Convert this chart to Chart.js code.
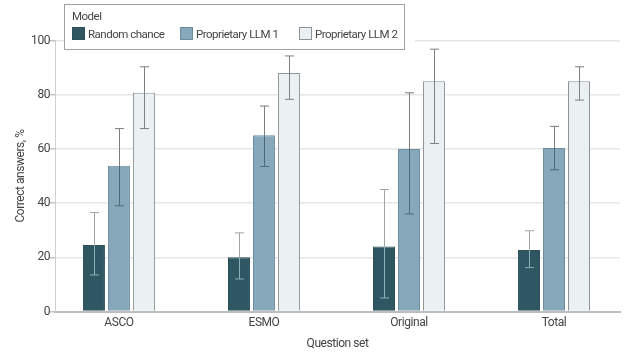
<!DOCTYPE html>
<html>
<head>
<meta charset="utf-8">
<script src="https://cdn.jsdelivr.net/npm/chart.js@4"></script>
<style>
  html, body { margin: 0; padding: 0; background: #fff; }
  #wrap { position: relative; width: 635px; height: 361px; font-family: Roboto, sans-serif; color: #444; }
  #legend { position: absolute; left: 64px; top: 4px; width: 339px; height: 44px; background: #fff;
            border: 1px solid #a0a0a0; box-shadow: 10px 0 0 #fff; font-size: 11.5px; letter-spacing: -0.5px; }
  #legend span { position: absolute; white-space: nowrap; }
  #legend i { position: absolute; top: 22px; width: 13px; height: 13px; box-sizing: border-box; border: 1px solid; }
</style>
</head>
<body>
<div id="wrap">
  <canvas id="myChart" width="635" height="361"></canvas>
  <div id="legend"><span style="left:7px;top:4px">Model</span></div>
</div>
<script>
var categories = ["ASCO", "ESMO", "Original", "Total"];
var seriesNames = ["Random chance", "Proprietary LLM 1", "Proprietary LLM 2"];

var randomChance = [24.5, 20, 24, 22.7];
var randomLow = [13.5, 12, 5, 16.2];
var randomHigh = [36.5, 29, 45, 29.8];

var llm1 = [53.8, 65, 60, 60.3];
var llm1Low = [39, 53.5, 36, 52.3];
var llm1High = [67.5, 75.8, 80.7, 68.3];

var llm2 = [80.7, 88, 85, 85];
var llm2Low = [67.5, 78.3, 62, 78];
var llm2High = [90.3, 94.3, 96.8, 90.3];

var yTicks = [0, 20, 40, 60, 80, 100];

var fills = ["#2f5763", "#86a8ba", "#ebf0f3"];
var borders = ["#2c4f5a", "#6c8d9c", "#8f9496"];
var whiskerOut = ["#a3a3a3", "#7d7d7d", "#7d7d7d"];
var whiskerIn = ["#8fb0b8", "#4f6a76", "#7d8285"];

var lows = [randomLow, llm1Low, llm2Low];
var highs = [randomHigh, llm1High, llm2High];

function points(values) {
    return values.map(function (v, i) {
        return { x: i, y: v };
    });
}

// whiskers are drawn from the low/high arrays, lighter inside the dark bars
var errorBars = {
    id: "errorBars",
    beforeDraw: function (chart) {
        chart.ctx.letterSpacing = "-0.45px";
    },
    afterDatasetsDraw: function (chart) {
        var ctx = chart.ctx;
        var y = chart.scales.y;
        ctx.save();
        ctx.lineWidth = 1;
        chart.data.datasets.forEach(function (ds, d) {
            chart.getDatasetMeta(d).data.forEach(function (bar, i) {
                var x = Math.round(bar.x) + 0.5;
                var top = y.getPixelForValue(highs[d][i]);
                var bottom = y.getPixelForValue(lows[d][i]);
                var barTop = y.getPixelForValue(ds.data[i].y);
                ctx.strokeStyle = whiskerOut[d];
                ctx.beginPath();
                ctx.moveTo(x - 4.5, top);
                ctx.lineTo(x + 4.5, top);
                ctx.moveTo(x, top);
                ctx.lineTo(x, barTop);
                ctx.stroke();
                ctx.strokeStyle = whiskerIn[d];
                ctx.beginPath();
                ctx.moveTo(x, barTop);
                ctx.lineTo(x, bottom);
                ctx.moveTo(x - 4.5, bottom);
                ctx.lineTo(x + 4.5, bottom);
                ctx.stroke();
            });
        });
        ctx.restore();
    }
};

var legend = document.getElementById("legend");
var swatchX = [7, 115, 234];
seriesNames.forEach(function (name, i) {
    var box = document.createElement("i");
    box.style.left = swatchX[i] + "px";
    box.style.background = fills[i];
    box.style.borderColor = borders[i];
    legend.appendChild(box);
    var label = document.createElement("span");
    label.textContent = name;
    label.style.left = swatchX[i] + 16 + "px";
    label.style.top = "22px";
    legend.appendChild(label);
});

Chart.defaults.font.family = "Roboto";
Chart.defaults.font.size = 12;
Chart.defaults.color = "#444";

var myChart = new Chart(document.getElementById("myChart"), {
    type: "bar",
    data: {
        datasets: [randomChance, llm1, llm2].map(function (values, d) {
            return {
                label: seriesNames[d],
                data: points(values),
                backgroundColor: fills[d],
                borderColor: borders[d],
                borderWidth: 1,
                categoryPercentage: 0.517,
                barPercentage: 0.88
            };
        })
    },
    options: {
        responsive: false,
        animation: false,
        layout: { padding: { top: 40.5, right: 15, left: 14, bottom: 0 } },
        plugins: { legend: { display: false }, tooltip: { enabled: false } },
        scales: {
            x: {
                type: "linear",
                offset: false,
                min: -0.441,
                max: 3.455,
                afterBuildTicks: function (axis) {
                    axis.ticks = categories.map(function (c, i) {
                        return { value: i };
                    });
                },
                afterFit: function (axis) {
                    axis.height = 49.5;
                },
                ticks: {
                    autoSkip: false,
                    maxRotation: 0,
                    padding: 4,
                    callback: function (value) {
                        return categories[value];
                    }
                },
                grid: { offset: false, drawOnChartArea: false, drawTicks: false },
                border: { color: "#bdbdbd", width: 2 },
                title: { display: true, text: "Question set", padding: { top: 6, bottom: 10 } }
            },
            y: {
                min: 0,
                max: 100,
                afterBuildTicks: function (axis) {
                    axis.ticks = yTicks.map(function (v) {
                        return { value: v };
                    });
                },
                afterFit: function (axis) {
                    axis.width = 41;
                },
                ticks: { padding: 0 },
                grid: { color: "#e6e6e6", lineWidth: 1.5, tickLength: 5, tickColor: "#c4c4c4" },
                border: { color: "#d0d0d0", width: 1 },
                title: { display: true, text: "Correct answers, %", padding: { top: 0, bottom: 0 } }
            }
        }
    },
    plugins: [errorBars]
});
</script>
</body>
</html>
